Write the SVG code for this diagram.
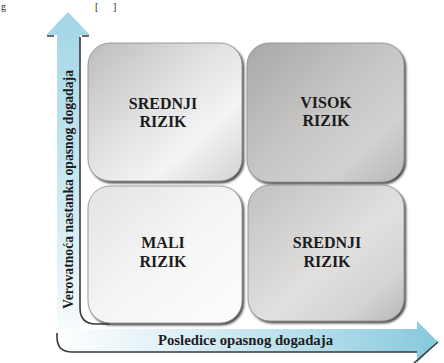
<svg xmlns="http://www.w3.org/2000/svg" width="444" height="363" viewBox="0 0 444 363">
<defs>
<style>
.lbl{font-family:'Liberation Serif','Times New Roman','DejaVu Serif',serif;font-weight:700;font-size:16px;fill:#1c1c1c;text-anchor:middle}
.ax{font-family:'Liberation Serif','Times New Roman','DejaVu Serif',serif;font-weight:700;font-size:15px;fill:#1c1c1c}
.cap{font-family:'Liberation Serif','Times New Roman','DejaVu Serif',serif;font-size:10px;fill:#222}
.box{stroke:#8a8a8a;stroke-width:0.8;filter:url(#sh)}
.edge{fill:none;stroke:#3a3a3a;stroke-width:1.6}
</style>
<filter id="sh" x="-10%" y="-10%" width="125%" height="125%">
<feDropShadow dx="1.8" dy="2" stdDeviation="0.9" flood-color="#2a2a2a" flood-opacity="0.85"/>
</filter>
<linearGradient id="vbar" x1="0" y1="0" x2="0" y2="1">
<stop offset="0" stop-color="#a3d6e6"/>
<stop offset="0.45" stop-color="#c4e5ef"/>
<stop offset="0.85" stop-color="#eef7fa"/>
<stop offset="1" stop-color="#ffffff"/>
</linearGradient>
<linearGradient id="hbar" x1="0" y1="0" x2="1" y2="0">
<stop offset="0" stop-color="#ffffff"/>
<stop offset="0.3" stop-color="#dff0f6"/>
<stop offset="0.75" stop-color="#a9d9e8"/>
<stop offset="1" stop-color="#86c8de"/>
</linearGradient>
<linearGradient id="gTL" x1="0" y1="0" x2="1" y2="1">
<stop offset="0" stop-color="#bdbdbd"/>
<stop offset="0.45" stop-color="#e2e2e2"/>
<stop offset="0.7" stop-color="#f4f4f4"/>
<stop offset="1" stop-color="#d2d2d2"/>
</linearGradient>
<linearGradient id="gTR" x1="0" y1="0" x2="1" y2="1">
<stop offset="0" stop-color="#aaa8a6"/>
<stop offset="0.5" stop-color="#c9c7c5"/>
<stop offset="0.75" stop-color="#d3d1cf"/>
<stop offset="1" stop-color="#bab8b6"/>
</linearGradient>
<linearGradient id="gBL" x1="0" y1="0" x2="1" y2="1">
<stop offset="0" stop-color="#e3e3e3"/>
<stop offset="0.5" stop-color="#f5f5f5"/>
<stop offset="1" stop-color="#fdfdfd"/>
</linearGradient>
<linearGradient id="gBR" x1="0" y1="0" x2="1" y2="1">
<stop offset="0" stop-color="#c3c1bf"/>
<stop offset="0.55" stop-color="#e2e0de"/>
<stop offset="0.8" stop-color="#d6d4d2"/>
<stop offset="1" stop-color="#b9b7b5"/>
</linearGradient>
</defs>
<rect width="444" height="363" fill="#ffffff"/>
<text class="cap" x="1" y="10">g</text>
<text class="cap" x="95" y="10">[</text>
<text class="cap" x="113" y="10">]</text>

<g id="connectors">
<g id="axis-y">
<path d="M57,35 V337 Q57,352 72,352 H80 V35 H90 L68,12 L46,35 Z" fill="url(#vbar)"/>
<path d="M47,36 H54 M82,36 H89" class="edge"/>
<path d="M80,37 V308 Q80,324 96,324 H110" class="edge"/>
</g>
<g id="axis-x">
<path d="M72,329 H417 V321 L438,342 L417,363 V352 H72 Q57,352 57,337 V329 Z" fill="url(#hbar)"/>
<path d="M57,333 V337 Q57,352 72,352 H417" class="edge" stroke-width="1.3"/>
<path d="M414,363 L438,342" class="edge"/>
</g>
</g>

<g id="node-tl">
<rect class="box" x="88" y="43" width="154" height="138" rx="22" fill="url(#gTL)"/>
<text class="lbl" x="163" y="109">SREDNJI</text>
<text class="lbl" x="163" y="127">RIZIK</text>
</g>
<g id="node-tr">
<rect class="box" x="247" y="43" width="157" height="139" rx="22" fill="url(#gTR)"/>
<text class="lbl" x="326" y="108">VISOK</text>
<text class="lbl" x="326" y="126">RIZIK</text>
</g>
<g id="node-bl">
<rect class="box" x="88" y="186" width="154" height="137" rx="22" fill="url(#gBL)"/>
<text class="lbl" x="163" y="248">MALI</text>
<text class="lbl" x="163" y="267">RIZIK</text>
</g>
<g id="node-br">
<rect class="box" x="248" y="185" width="156" height="136" rx="22" fill="url(#gBR)"/>
<text class="lbl" x="327" y="248">SREDNJI</text>
<text class="lbl" x="327" y="267">RIZIK</text>
</g>

<text class="ax" x="158" y="345" textLength="175" lengthAdjust="spacingAndGlyphs">Posledice opasnog dogadaja</text>
<text class="ax" transform="translate(73,309) rotate(-90)" x="0" y="0" textLength="239" lengthAdjust="spacingAndGlyphs">Verovatnoća nastanka opasnog dogadaja</text>
</svg>
